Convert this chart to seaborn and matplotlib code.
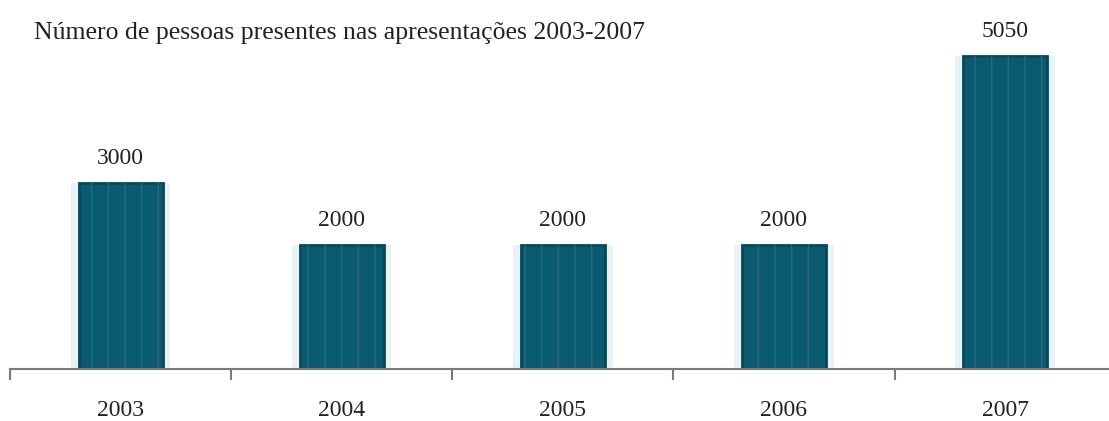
import pandas as pd
import matplotlib.pyplot as plt
import seaborn as sns

# Data
years = ['2003', '2004', '2005', '2006', '2007']
people = [3000, 2000, 2000, 2000, 5050]

sns.set_style("white")
plt.rcParams['font.family'] = ['Liberation Serif', 'DejaVu Serif']
plt.rcParams['hatch.linewidth'] = 1.0

df = pd.DataFrame({'year': years, 'people': people})

fig = plt.figure(figsize=(11.09, 4.21), dpi=100)
ax = fig.add_axes([0.009, 0.1235, 0.997, 0.81])

# soft glow behind the bars
sns.barplot(data=df, x='year', y='people', ax=ax, width=0.45,
            color='#e8f3f6', saturation=1, linewidth=0)
# main bars
sns.barplot(data=df, x='year', y='people', ax=ax, width=0.38,
            color='#0a5a70', saturation=1, edgecolor='#06475a', linewidth=2)
# faint vertical stripes
sns.barplot(data=df, x='year', y='people', ax=ax, width=0.36,
            facecolor='none', edgecolor='#236c80', hatch='|', linewidth=0)

ax.bar_label(ax.containers[1], fmt='%d', padding=10, fontsize=17, color='#222222')

ax.set_xlim(-0.5, 4.5)
ax.set_ylim(0, 5500)
ax.set_xlabel('')
ax.set_ylabel('')
ax.set_yticks([])
for side in ['top', 'right', 'left']:
    ax.spines[side].set_visible(False)
ax.spines['bottom'].set_color('#7a7a7a')
ax.spines['bottom'].set_linewidth(1.5)

ax.set_xticks(range(len(years)))
ax.set_xticklabels(years, fontsize=17, color='#222222')
ax.tick_params(axis='x', which='major', bottom=False, length=0, pad=22)
ax.set_xticks([i - 0.5 for i in range(len(years))], minor=True)
ax.tick_params(axis='x', which='minor', bottom=True, length=8, width=1.5,
               color='#7a7a7a', direction='out')

fig.text(0.031, 0.922, 'Número de pessoas presentes nas apresentações 2003-2007',
         fontsize=18.5, color='#222222', va='center', ha='left')

plt.savefig('out.png', dpi=100)
